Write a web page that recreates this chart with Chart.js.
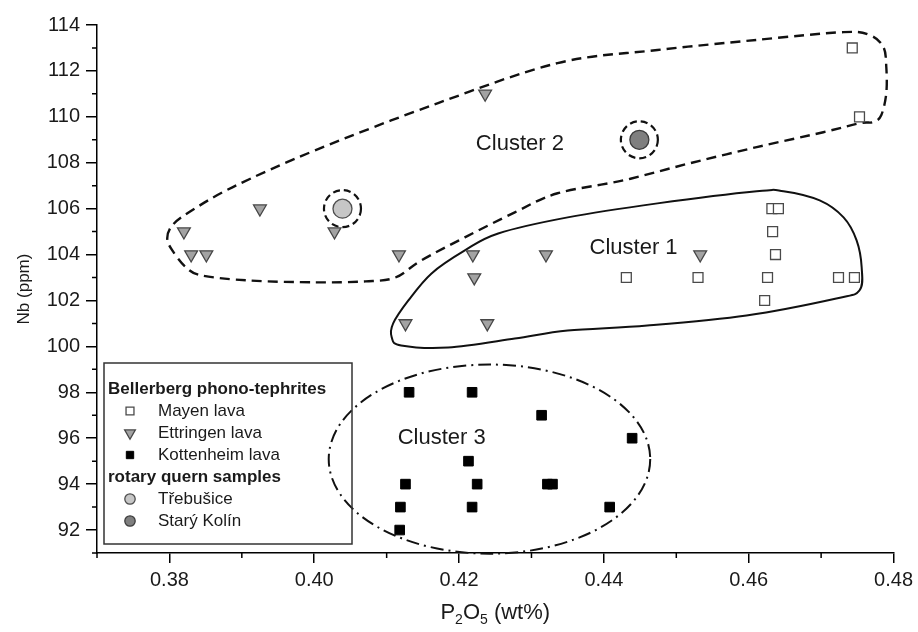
<!DOCTYPE html>
<html>
<head>
<meta charset="utf-8">
<style>
  html, body { margin: 0; padding: 0; background: #fff; }
  canvas { display: block; }
</style>
<script src="https://cdn.jsdelivr.net/npm/chart.js@4.4.1/dist/chart.umd.min.js"></script>
</head>
<body>
<canvas id="c" width="918" height="632"></canvas>
<script>
// Bellerberg phono-tephrites: P2O5 (wt%) and Nb (ppm)
const mayenP2O5 = [0.4743, 0.4753, 0.4632, 0.4641, 0.4633, 0.4637, 0.4431, 0.4530, 0.4626, 0.4724, 0.4746, 0.4622];
const mayenNb   = [113, 110, 106, 106, 105, 104, 103, 103, 103, 103, 103, 102];

const ettringenP2O5 = [0.3820, 0.3830, 0.3851, 0.3925, 0.4028, 0.4117, 0.4219, 0.4221, 0.4320, 0.4126, 0.4239, 0.4533, 0.4236];
const ettringenNb   = [105, 104, 104, 106, 105, 104, 104, 103, 104, 101, 101, 104, 111];

const kottenheimP2O5 = [0.4131, 0.4218, 0.4314, 0.4439, 0.4213, 0.4126, 0.4225, 0.4322, 0.4329, 0.4119, 0.4218, 0.4408, 0.4118];
const kottenheimNb   = [98, 98, 97, 96, 95, 94, 94, 94, 94, 93, 93, 93, 92];

// rotary quern samples
const trebusiceP2O5 = [0.4039];
const trebusiceNb   = [106];
const staryKolinP2O5 = [0.4449];
const staryKolinNb   = [109];

// axis ticks
const xTickValues = [0.38, 0.40, 0.42, 0.44, 0.46, 0.48];
const xMinorTicks = [0.37, 0.39, 0.41, 0.43, 0.45, 0.47];
const yTickValues = [92, 94, 96, 98, 100, 102, 104, 106, 108, 110, 112, 114];
const yMinorTicks = [91, 93, 95, 97, 99, 101, 103, 105, 107, 109, 111, 113];

// cluster outlines (P2O5, Nb)
const cluster1P2O5 = [0.4107, 0.4109, 0.4130, 0.4162, 0.4208, 0.4254, 0.4350, 0.4474, 0.4611, 0.4648, 0.4698, 0.4731, 0.4749, 0.4756, 0.4753, 0.4721, 0.4597, 0.4460, 0.4350, 0.4277, 0.4185, 0.4120];
const cluster1Nb   = [100.39, 101.0, 102.0, 103.18, 104.18, 104.92, 105.62, 106.23, 106.76, 106.76, 106.36, 105.62, 104.62, 103.44, 102.44, 102.09, 101.35, 100.91, 100.69, 100.34, 99.95, 100.04];

const cluster2P2O5 = [0.3797, 0.3804, 0.3827, 0.3887, 0.4002, 0.4171, 0.4336, 0.4474, 0.4611, 0.4731, 0.4767, 0.4786, 0.4790, 0.4790, 0.4783, 0.4772, 0.4753, 0.4703, 0.4611, 0.4519, 0.4428, 0.4336, 0.4277, 0.4208, 0.4148, 0.4112, 0.4071, 0.4002, 0.3910, 0.3845, 0.3823, 0.3804];
const cluster2Nb   = [104.71, 105.27, 105.84, 106.93, 108.55, 110.6, 112.34, 112.91, 113.35, 113.69, 113.56, 113.04, 112.17, 111.03, 110.07, 109.77, 109.72, 109.33, 108.68, 107.98, 107.24, 106.67, 105.84, 104.75, 103.75, 103.0, 102.83, 102.79, 102.87, 103.09, 103.44, 104.18];

// cluster 3 ellipse: centre and semi-axes in data units
const cluster3Center = [0.4242, 95.09];
const cluster3Radii  = [0.0222, 4.12];

// cluster names and their anchor points
const clusterNames = ['Cluster 1', 'Cluster 2', 'Cluster 3'];
const clusterLabelP2O5 = [0.4441, 0.4284, 0.4176];
const clusterLabelNb   = [104.31, 108.8, 96.0];

const FONT = '"Liberation Sans", Arial, Helvetica, sans-serif';

function pts(xs, ys) { return xs.map((x, i) => ({ x: x, y: ys[i] })); }

const styles = {
  mayen:      { pointStyle: 'rect', radius: 7, bg: '#ffffff', border: '#4a4a4a', bw: 1.3 },
  ettringen:  { pointStyle: 'triangle', rotation: 180, radius: 7.4, bg: '#a3a3a3', border: '#474747', bw: 1.3 },
  kottenheim: { pointStyle: 'rect', radius: 6.8, bg: '#000000', border: '#000000', bw: 1 },
  trebusice:  { pointStyle: 'circle', radius: 9.5, bg: '#c6c6c6', border: '#4d4d4d', bw: 1.3 },
  staryKolin: { pointStyle: 'circle', radius: 9.5, bg: '#7f7f7f', border: '#3d3d3d', bw: 1.3 }
};

function ds(label, data, s) {
  return {
    label: label, data: data,
    pointStyle: s.pointStyle, rotation: s.rotation || 0,
    pointRadius: s.radius, pointHoverRadius: s.radius,
    backgroundColor: s.bg, borderColor: s.border, borderWidth: s.bw,
    showLine: false
  };
}

// closed smooth curve (Catmull-Rom) through pixel points
function closedCurve(ctx, p) {
  const n = p.length;
  ctx.beginPath();
  ctx.moveTo(p[0][0], p[0][1]);
  for (let i = 0; i < n; i++) {
    const p0 = p[(i - 1 + n) % n], p1 = p[i], p2 = p[(i + 1) % n], p3 = p[(i + 2) % n];
    const t = 1 / 6;
    ctx.bezierCurveTo(
      p1[0] + (p2[0] - p0[0]) * t, p1[1] + (p2[1] - p0[1]) * t,
      p2[0] - (p3[0] - p1[0]) * t, p2[1] - (p3[1] - p1[1]) * t,
      p2[0], p2[1]);
  }
  ctx.closePath();
}

const decorations = {
  id: 'decorations',
  beforeDatasetsDraw(chart) {
    const ctx = chart.ctx, xs = chart.scales.x, ys = chart.scales.y;
    const px = v => xs.getPixelForValue(v), py = v => ys.getPixelForValue(v);
    ctx.save();
    ctx.strokeStyle = '#111';
    ctx.lineJoin = 'round';

    // Cluster 1 — solid outline
    ctx.setLineDash([]);
    ctx.lineWidth = 2;
    closedCurve(ctx, cluster1P2O5.map((x, i) => [px(x), py(cluster1Nb[i])]));
    ctx.stroke();

    // Cluster 2 — dashed outline
    ctx.setLineDash([10, 6]);
    ctx.lineWidth = 2.4;
    closedCurve(ctx, cluster2P2O5.map((x, i) => [px(x), py(cluster2Nb[i])]));
    ctx.stroke();

    // Cluster 3 — dash-dot ellipse
    ctx.setLineDash([13, 5, 2, 5]);
    ctx.lineWidth = 2;
    const cx = px(cluster3Center[0]), cy = py(cluster3Center[1]);
    const rx = Math.abs(px(cluster3Center[0] + cluster3Radii[0]) - cx);
    const ry = Math.abs(py(cluster3Center[1] + cluster3Radii[1]) - cy);
    ctx.beginPath();
    ctx.ellipse(cx, cy, rx, ry, 0, 0, Math.PI * 2);
    ctx.stroke();

    // dashed rings around the quern samples
    ctx.setLineDash([7, 4]);
    ctx.lineWidth = 2.2;
    [[trebusiceP2O5[0], trebusiceNb[0]], [staryKolinP2O5[0], staryKolinNb[0]]].forEach(q => {
      ctx.beginPath();
      ctx.arc(px(q[0]), py(q[1]), 18.5, 0, Math.PI * 2);
      ctx.stroke();
    });
    ctx.setLineDash([]);

    // cluster names
    ctx.fillStyle = '#1a1a1a';
    ctx.font = '22px ' + FONT;
    ctx.textAlign = 'center';
    ctx.textBaseline = 'middle';
    clusterNames.forEach((name, i) => {
      ctx.fillText(name, px(clusterLabelP2O5[i]), py(clusterLabelNb[i]));
    });
    ctx.restore();
  },
  afterDraw(chart) {
    const ctx = chart.ctx, xs = chart.scales.x, ys = chart.scales.y;
    const area = chart.chartArea;
    ctx.save();

    // minor ticks
    ctx.strokeStyle = '#000';
    ctx.lineWidth = 1.5;
    ctx.beginPath();
    xMinorTicks.forEach(v => {
      const x = xs.getPixelForValue(v);
      ctx.moveTo(x, area.bottom);
      ctx.lineTo(x, area.bottom + 5);
    });
    yMinorTicks.forEach(v => {
      const y = ys.getPixelForValue(v);
      ctx.moveTo(area.left, y);
      ctx.lineTo(area.left - 5, y);
    });
    ctx.stroke();

    // axis titles
    ctx.fillStyle = '#1a1a1a';
    ctx.textBaseline = 'alphabetic';
    ctx.save();
    ctx.translate(29, (area.top + area.bottom) / 2);
    ctx.rotate(-Math.PI / 2);
    ctx.textAlign = 'center';
    ctx.font = '17px ' + FONT;
    ctx.fillText('Nb (ppm)', 0, 0);
    ctx.restore();

    const big = '22px ' + FONT, small = '14px ' + FONT;
    const parts = [['P', big, 0], ['2', small, 5], ['O', big, 0], ['5', small, 5], [' (wt%)', big, 0]];
    let total = 0;
    parts.forEach(p => { ctx.font = p[1]; total += ctx.measureText(p[0]).width; });
    let x = (area.left + area.right) / 2 - total / 2;
    const base = 619;
    ctx.textAlign = 'left';
    parts.forEach(p => {
      ctx.font = p[1];
      ctx.fillText(p[0], x, base + p[2]);
      x += ctx.measureText(p[0]).width;
    });

    // legend box
    const lx = area.left + 7, ly = 363, lw = 248, lh = 181;
    ctx.strokeStyle = '#333';
    ctx.lineWidth = 1.5;
    ctx.strokeRect(lx, ly, lw, lh);

    const rows = [
      { text: 'Bellerberg phono-tephrites', header: true },
      { text: 'Mayen lava', s: styles.mayen, r: 5.6 },
      { text: 'Ettringen lava', s: styles.ettringen, r: 6.2 },
      { text: 'Kottenheim lava', s: styles.kottenheim, r: 5.2 },
      { text: 'rotary quern samples', header: true },
      { text: 'T\u0159ebu\u0161ice', s: styles.trebusice, r: 5.2 },
      { text: 'Star\u00fd Kol\u00edn', s: styles.staryKolin, r: 5.2 }
    ];
    ctx.textBaseline = 'middle';
    rows.forEach((row, i) => {
      const y = ly + 26 + i * 22;
      if (row.header) {
        ctx.font = 'bold 17px ' + FONT;
        ctx.fillStyle = '#1a1a1a';
        ctx.fillText(row.text, lx + 4, y);
      } else {
        ctx.fillStyle = row.s.bg;
        ctx.strokeStyle = row.s.border;
        ctx.lineWidth = row.s.bw;
        Chart.helpers.drawPoint(ctx, {
          pointStyle: row.s.pointStyle, rotation: row.s.rotation || 0,
          radius: row.r, borderWidth: row.s.bw
        }, lx + 26, y);
        ctx.font = '17px ' + FONT;
        ctx.fillStyle = '#1a1a1a';
        ctx.fillText(row.text, lx + 54, y);
      }
    });
    ctx.restore();
  }
};

new Chart(document.getElementById('c'), {
  type: 'scatter',
  data: {
    datasets: [
      ds('Mayen lava', pts(mayenP2O5, mayenNb), styles.mayen),
      ds('Ettringen lava', pts(ettringenP2O5, ettringenNb), styles.ettringen),
      ds('Kottenheim lava', pts(kottenheimP2O5, kottenheimNb), styles.kottenheim),
      ds('T\u0159ebu\u0161ice', pts(trebusiceP2O5, trebusiceNb), styles.trebusice),
      ds('Star\u00fd Kol\u00edn', pts(staryKolinP2O5, staryKolinNb), styles.staryKolin)
    ]
  },
  options: {
    responsive: false,
    animation: false,
    layout: { padding: { top: 25, right: 21, left: 0, bottom: 0 } },
    plugins: { legend: { display: false }, tooltip: { enabled: false } },
    scales: {
      x: {
        type: 'linear', position: 'bottom', min: 0.37, max: 0.48,
        afterBuildTicks: s => { s.ticks = xTickValues.map(v => ({ value: v })); },
        afterFit: s => { s.height = 79; },
        ticks: { callback: v => Number(v).toFixed(2), color: '#1a1a1a', font: { family: FONT, size: 20 }, padding: 5, maxRotation: 0 },
        grid: { drawOnChartArea: false, drawTicks: true, tickLength: 10, color: '#000', tickWidth: 1.5, lineWidth: 1.5 },
        border: { display: true, color: '#000', width: 1.5 }
      },
      y: {
        type: 'linear', position: 'left', min: 91, max: 114,
        afterBuildTicks: s => { s.ticks = yTickValues.map(v => ({ value: v })); },
        afterFit: s => { s.width = 97; },
        ticks: { callback: v => String(v), color: '#1a1a1a', font: { family: FONT, size: 20 }, padding: 6 },
        grid: { drawOnChartArea: false, drawTicks: true, tickLength: 11, color: '#000', tickWidth: 1.5, lineWidth: 1.5 },
        border: { display: true, color: '#000', width: 1.5 }
      }
    }
  },
  plugins: [decorations]
});
</script>
</body>
</html>
